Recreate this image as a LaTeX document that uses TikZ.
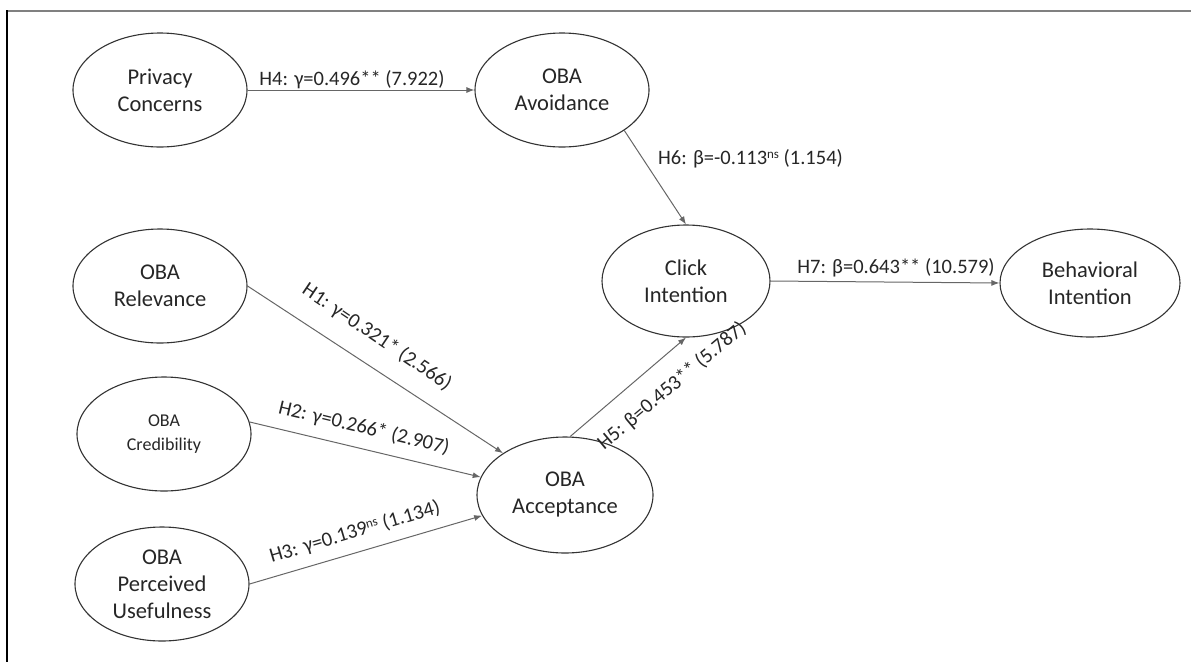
\documentclass[tikz,border=0pt]{standalone}
\usepackage{fontspec}
\setmainfont{Carlito}
\usetikzlibrary{shapes.geometric,arrows.meta}
\newcommand\nsup{\raisebox{0.6ex}{\fontsize{13}{13}\selectfont ns}}
\begin{document}
\begin{tikzpicture}[x=1pt,y=-1pt,
  lat/.style={ellipse, draw=black!80, line width=1.1pt, minimum width=174pt, minimum height=114pt, inner sep=0pt, align=center, font=\fontsize{22.5}{27}\selectfont, text=black!85},
  pathe/.style={draw=black!60, line width=1pt, -{Latex[length=8pt,width=6pt]}},
  lbl/.style={font=\fontsize{20.5}{24}\selectfont, text=black!85, inner sep=0pt}]
\useasboundingbox (0,0) rectangle (1191,662);
\draw[black!50, line width=1.5pt] (7,11) -- (1191,11);
\draw[black, line width=2pt] (7,10) -- (7,662);
% nodes
\node[lat] (pc) at (160,90) {Privacy\\Concerns};
\node[lat] (avo) at (562,90) {OBA\\Avoidance};
\node[lat] (rel) at (160,286) {OBA\\Relevance};
\node[lat, font=\fontsize{18}{24}\selectfont] (cred) at (164,434) {OBA\\Credibility};
\node[lat] (pu) at (162,584) {OBA\\Perceived\\Usefulness};
\node[lat, minimum width=176pt, minimum height=116pt] (acc) at (565,495) {OBA\\Acceptance};
\node[lat, minimum width=168pt, minimum height=112pt] (click) at (686,281) {Click\\Intention};
\node[lat, minimum width=180pt, minimum height=108pt] (bi) at (1090,283) {Behavioral\\Intention};
% connectors
\draw[pathe] (pc.east) -- (avo.west);
\draw[pathe] (avo.-33) -- (click.north);
\draw[pathe] (click.east) -- (bi.west);
\draw[pathe] (rel.east) -- (acc.146);
\draw[pathe] (cred.8) -- (acc.168);
\draw[pathe] (pu.east) -- (acc.194);
\draw[pathe] (acc.85) -- (click.south);
% labels
\node[lbl] (l4) at (352,80) {H4: γ=0.496** (7.922)};
\node[lbl, anchor=west] (l6) at (658,159) {H6: β=-0.113\nsup{} (1.154)};
\node[lbl] (l7) at (896,268) {H7: β=0.643** (10.579)};
\node[lbl, rotate=-34] (l1) at (377,337) {H1: γ=0.321* (2.566)};
\node[lbl, rotate=-13.5] (l2) at (364,428) {H2: γ=0.266* (2.907)};
\node[lbl, rotate=16.5] (l3) at (355,532) {H3: γ=0.139\nsup{} (1.134)};
\node[lbl, rotate=40] (l5) at (672,386) {H5: β=0.453** (5.787)};
\end{tikzpicture}
\end{document}
